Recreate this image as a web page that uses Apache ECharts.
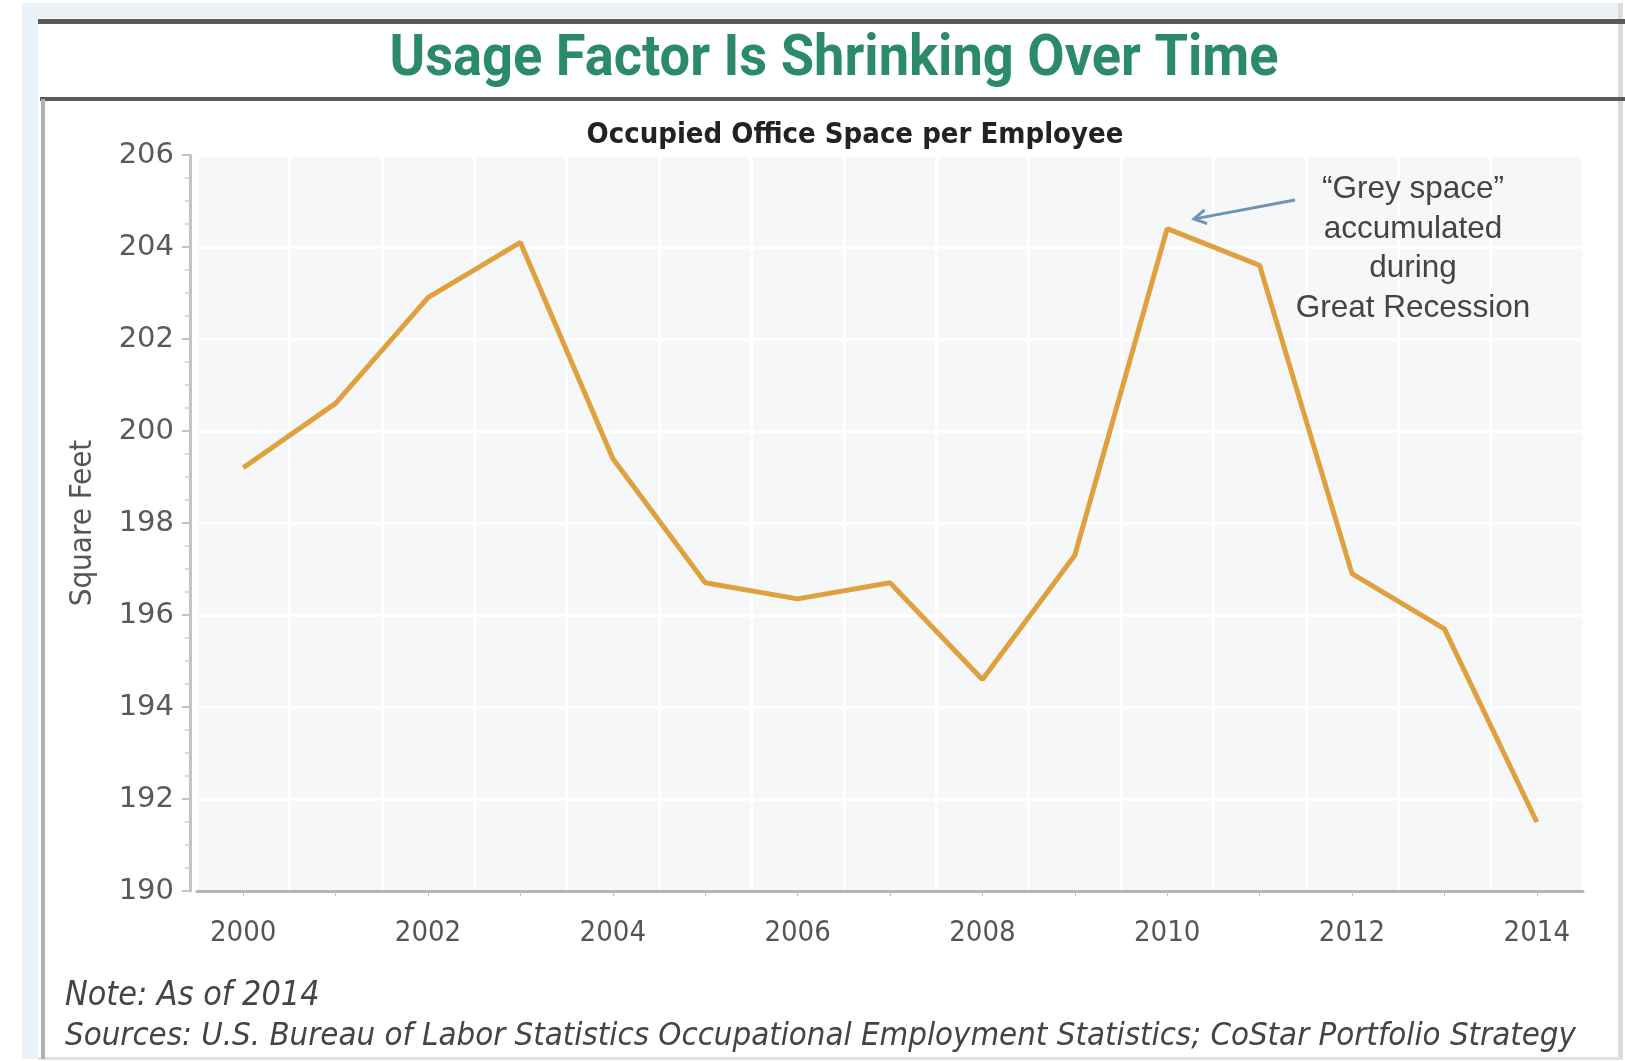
<!DOCTYPE html>
<html>
<head>
<meta charset="utf-8">
<style>
  html, body { margin: 0; padding: 0; background: #ffffff; }
  #chart { width: 1625px; height: 1061px; }
</style>
<script src="https://cdn.jsdelivr.net/npm/echarts@6/dist/echarts.min.js"></script>
</head>
<body>
<div id="chart"></div>
<script>
// ---- data ----
const years = ['2000','2001','2002','2003','2004','2005','2006','2007','2008','2009','2010','2011','2012','2013','2014'];
const sqFtPerEmployee = [199.2, 200.6, 202.9, 204.1, 199.4, 196.7, 196.35, 196.7, 194.6, 197.3, 204.4, 203.6, 196.9, 195.7, 191.5];
const yMin = 190, yMax = 206, yStep = 2;

const titleText = 'Usage Factor Is Shrinking Over Time';
const subtitleText = 'Occupied Office Space per Employee';
const yAxisName = 'Square Feet';
const annotationLines = ['\u201cGrey space\u201d', 'accumulated', 'during', 'Great Recession'];
const noteText = 'Note: As of 2014';
const sourceText = 'Sources: U.S. Bureau of Labor Statistics Occupational Employment Statistics; CoStar Portfolio Strategy';

const NARROW = '"DejaVu Sans Condensed", "Liberation Sans Narrow", Arial, sans-serif';
const SANS = '"Liberation Sans", Arial, sans-serif';
const DEJAVU = '"DejaVu Sans", Arial, sans-serif';

const chart = echarts.init(document.getElementById('chart'), null, { renderer: 'canvas' });

const option = {
  backgroundColor: '#ffffff',
  animation: false,
  grid: {
    left: 197, right: 42, top: 155, bottom: 170,
    show: true, backgroundColor: '#f6f7f8', borderWidth: 0
  },
  xAxis: {
    type: 'category',
    data: years,
    boundaryGap: true,
    axisLine: { show: true, lineStyle: { color: '#b5b5b5', width: 3 } },
    axisTick: { show: true, alignWithLabel: true, interval: 0, length: 5, lineStyle: { color: '#c0c0c0' } },
    axisLabel: { interval: 1, color: '#555', fontFamily: NARROW, fontSize: 29, margin: 28 },
    splitLine: { show: true, interval: 0, lineStyle: { color: '#ffffff', width: 3 } }
  },
  yAxis: {
    type: 'value',
    min: yMin, max: yMax, interval: yStep,
    offset: 7,
    name: yAxisName,
    nameLocation: 'middle',
    nameRotate: 90,
    nameGap: 92,
    nameTextStyle: { color: '#555', fontFamily: NARROW, fontSize: 31 },
    axisLine: { show: true, lineStyle: { color: '#c4c4c4', width: 3 } },
    axisTick: { show: true, length: 8, lineStyle: { color: '#c4c4c4', width: 2 } },
    minorTick: { show: true, splitNumber: 4, length: 5, lineStyle: { color: '#d0d0d0', width: 1.5 } },
    axisLabel: { color: '#5a5a5a', fontFamily: DEJAVU, fontSize: 29, margin: 16 },
    splitLine: { show: true, lineStyle: { color: '#ffffff', width: 3 } }
  },
  series: [{
    type: 'line',
    data: sqFtPerEmployee,
    symbol: 'none',
    smooth: false,
    lineStyle: { color: '#e0a03e', width: 5 },
    z: 5
  }],
  graphic: [
    // light outer frame
    { type: 'rect', shape: { x: 22, y: 3, width: 1598, height: 15 }, style: { fill: '#eaf1f7' }, silent: true, z: -1 },
    { type: 'rect', shape: { x: 22, y: 3, width: 16, height: 1056 }, style: { fill: '#eaf1f7' }, silent: true, z: -1 },
    { type: 'rect', shape: { x: 1618, y: 3, width: 5, height: 1056 }, style: { fill: '#dcdcdc' }, silent: true, z: -1 },
    { type: 'rect', shape: { x: 38, y: 1057, width: 1585, height: 3 }, style: { fill: '#e0e0e0' }, silent: true, z: -1 },
    // dark rules
    { type: 'rect', shape: { x: 38, y: 19, width: 1587, height: 5 }, style: { fill: '#5a5a5a' }, silent: true },
    { type: 'rect', shape: { x: 40, y: 97, width: 1585, height: 4 }, style: { fill: '#5a5a5a' }, silent: true },
    // left box line
    { type: 'rect', shape: { x: 41, y: 99, width: 4, height: 960 }, style: { fill: '#b0b0b0' }, silent: true },
    // main title
    { type: 'text', x: 834, y: 60, scaleX: 0.935, style: { text: titleText, fill: '#2b8a69', font: 'bold 58px Roboto, ' + SANS, align: 'center', verticalAlign: 'middle' } },
    // subtitle
    { type: 'text', x: 855, y: 135, style: { text: subtitleText, fill: '#222', font: 'bold 29px ' + NARROW, align: 'center', verticalAlign: 'middle' }, z: 10 },
    // annotation
    { type: 'text', x: 1413, y: 249, style: { text: annotationLines.join('\n'), fill: '#444', font: '31.5px ' + SANS, lineHeight: 39.5, align: 'center', verticalAlign: 'middle' }, z: 10 },
    { type: 'line', shape: { x1: 1295, y1: 200, x2: 1196, y2: 218.6 }, style: { stroke: '#6f93b4', lineWidth: 3 }, z: 10 },
    { type: 'polyline', shape: { points: [[1204.5, 209.9], [1194, 219], [1207.1, 223.7]] }, style: { stroke: '#6f93b4', lineWidth: 3, fill: null }, z: 10 },
    // note & source
    { type: 'text', x: 65, y: 996, style: { text: noteText, fill: '#444', font: 'italic 33.8px ' + NARROW, align: 'left', verticalAlign: 'middle' } },
    { type: 'text', x: 65, y: 1037, style: { text: sourceText, fill: '#444', font: 'italic 32.7px ' + NARROW, align: 'left', verticalAlign: 'middle' } }
  ]
};

chart.setOption(option);
</script>
</body>
</html>
